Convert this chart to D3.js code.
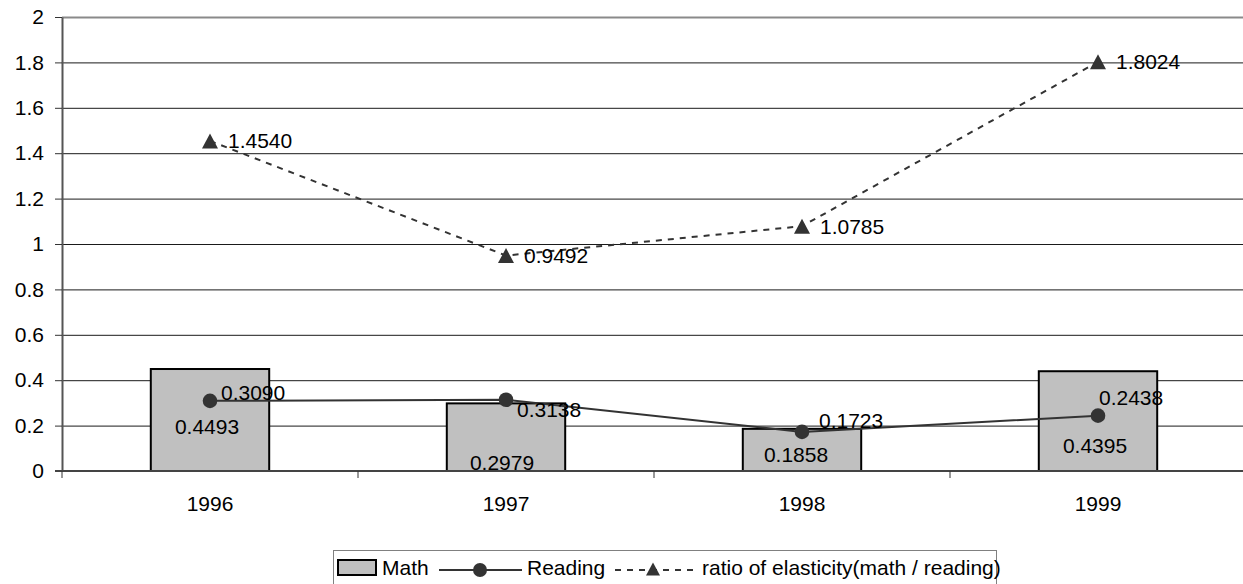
<!DOCTYPE html>
<html>
<head>
<meta charset="utf-8">
<script src="https://cdn.jsdelivr.net/npm/d3@7"></script>
<style>
  html, body { margin: 0; padding: 0; background: #fff; }
  svg { display: block; font-family: "Liberation Sans", Arial, sans-serif; }
</style>
</head>
<body>
<svg id="chart" width="1243" height="584"></svg>
<script>
// ---- data ----
const categories = ["1996", "1997", "1998", "1999"];
const mathValues = [0.4493, 0.2979, 0.1858, 0.4395];
const readingValues = [0.3090, 0.3138, 0.1723, 0.2438];
const ratioValues = [1.4540, 0.9492, 1.0785, 1.8024];
const yTickValues = [0, 0.2, 0.4, 0.6, 0.8, 1, 1.2, 1.4, 1.6, 1.8, 2];
const yTickLabels = ["0", "0.2", "0.4", "0.6", "0.8", "1", "1.2", "1.4", "1.6", "1.8", "2"];
const seriesNames = ["Math", "Reading", "ratio of elasticity(math / reading)"];

// label nudges (manually placed labels in the original)
const mathLabelNudge = [[-3, 7], [-4, 25], [-6, 5], [-3, 25]];
const readingLabelNudge = [[11, -8], [11, 10], [17, -11], [1, -18]];

// ---- layout ----
const W = 1243, H = 584;
const plot = { left: 62, top: 17, right: 1246, bottom: 471 };
const fontSize = 21;

const svg = d3.select("#chart");
svg.append("rect").attr("width", W).attr("height", H).attr("fill", "#fff");

const x = d3.scaleBand().domain(categories)
  .range([plot.left, plot.right]).paddingInner(0.6).paddingOuter(0.3);
const xCat = d3.scaleBand().domain(categories).range([plot.left, plot.right]).padding(0);
const y = d3.scaleLinear().domain([0, 2]).range([plot.bottom, plot.top]);
const cx = c => x(c) + x.bandwidth() / 2;

// gridlines
const grid = svg.append("g").attr("transform", `translate(${plot.left},0)`)
  .call(d3.axisLeft(y).tickValues(yTickValues.slice(1)).tickSize(-(W - plot.left)).tickFormat(""));
grid.select(".domain").remove();
grid.selectAll(".tick line")
  .attr("stroke", d => d === 2 ? "#8a8a8a" : "#1a1a1a")
  .attr("stroke-width", d => d === 2 ? 2 : 1);

// y axis
const yAxis = svg.append("g").attr("transform", `translate(${plot.left},0)`)
  .call(d3.axisLeft(y).tickValues(yTickValues).tickSize(7).tickPadding(11)
    .tickSizeOuter(0).tickFormat((d, i) => yTickLabels[i]));
yAxis.select(".domain").attr("stroke", "#555").attr("stroke-width", 2);
yAxis.selectAll(".tick line").attr("stroke", "#333");
yAxis.selectAll(".tick text").attr("font-size", fontSize).attr("fill", "#000")
  .attr("font-family", "Liberation Sans, Arial, sans-serif");

// bars
svg.append("g").selectAll("rect").data(mathValues).join("rect")
  .attr("x", (d, i) => x(categories[i]))
  .attr("y", d => y(d))
  .attr("width", x.bandwidth())
  .attr("height", d => y(0) - y(d))
  .attr("fill", "#c0c0c0")
  .attr("stroke", "#000")
  .attr("stroke-width", 2);

// x axis
const xAxis = svg.append("g").attr("transform", `translate(0,${plot.bottom})`)
  .call(d3.axisBottom(x).tickSize(0).tickPadding(25).tickSizeOuter(0));
xAxis.select(".domain").remove();
xAxis.selectAll(".tick text").attr("font-size", fontSize).attr("fill", "#000")
  .attr("font-family", "Liberation Sans, Arial, sans-serif");
svg.append("line")
  .attr("x1", plot.left - 7).attr("x2", W)
  .attr("y1", y(0)).attr("y2", y(0))
  .attr("stroke", "#444").attr("stroke-width", 2);
const boundaries = categories.map(c => xCat(c)).concat([xCat.range()[1]]);
svg.append("g").selectAll("line").data(boundaries).join("line")
  .attr("x1", d => d).attr("x2", d => d)
  .attr("y1", y(0)).attr("y2", y(0) + 7)
  .attr("stroke", "#333").attr("stroke-width", 1);

// reading line
const readingPts = readingValues.map((v, i) => [cx(categories[i]), y(v)]);
svg.append("path").attr("d", d3.line()(readingPts))
  .attr("fill", "none").attr("stroke", "#333").attr("stroke-width", 2);
svg.append("g").selectAll("circle").data(readingPts).join("circle")
  .attr("cx", d => d[0]).attr("cy", d => d[1]).attr("r", 7.3).attr("fill", "#333");

// ratio line
const ratioPts = ratioValues.map((v, i) => [cx(categories[i]), y(v)]);
svg.append("path").attr("d", d3.line()(ratioPts))
  .attr("fill", "none").attr("stroke", "#333").attr("stroke-width", 2)
  .attr("stroke-dasharray", "6,6");
const tri = (w, h) => `M0,${-h / 2}L${w / 2},${h / 2}L${-w / 2},${h / 2}Z`;
svg.append("g").selectAll("path").data(ratioPts).join("path")
  .attr("transform", d => `translate(${d[0]},${d[1]})`)
  .attr("d", tri(16, 15)).attr("fill", "#333");

// data labels
const labels = svg.append("g").attr("font-size", fontSize).attr("fill", "#000");
labels.selectAll("text.m").data(mathValues).join("text").attr("class", "m")
  .attr("x", (d, i) => cx(categories[i]) + mathLabelNudge[i][0])
  .attr("y", d => (y(d) + y(0)) / 2)
  .attr("dy", (d, i) => `${mathLabelNudge[i][1] + 0.35 * fontSize}px`)
  .attr("text-anchor", "middle")
  .text(d => d.toFixed(4));
labels.selectAll("text.r").data(readingValues).join("text").attr("class", "r")
  .attr("x", (d, i) => cx(categories[i]) + readingLabelNudge[i][0])
  .attr("y", d => y(d))
  .attr("dy", (d, i) => `${readingLabelNudge[i][1] + 0.35 * fontSize}px`)
  .text(d => d.toFixed(4));
labels.selectAll("text.q").data(ratioValues).join("text").attr("class", "q")
  .attr("x", (d, i) => cx(categories[i]) + 18)
  .attr("y", d => y(d))
  .attr("dy", "0.35em")
  .text(d => d.toFixed(4));

// legend
const lg = svg.append("g");
lg.append("rect").attr("x", 333.5).attr("y", 550.5).attr("width", 663).attr("height", 40)
  .attr("fill", "#fff").attr("stroke", "#808080").attr("stroke-width", 1);
const ly = 568;
lg.append("rect").attr("x", 338).attr("y", 560).attr("width", 38).attr("height", 15)
  .attr("fill", "#c0c0c0").attr("stroke", "#000").attr("stroke-width", 2);
lg.append("text").attr("x", 382).attr("y", ly).attr("dy", "0.35em")
  .attr("font-size", fontSize).text(seriesNames[0]);
lg.append("line").attr("x1", 439).attr("x2", 522).attr("y1", ly + 2).attr("y2", ly + 2)
  .attr("stroke", "#333").attr("stroke-width", 2);
lg.append("circle").attr("cx", 480).attr("cy", ly + 2).attr("r", 7).attr("fill", "#333");
lg.append("text").attr("x", 527).attr("y", ly).attr("dy", "0.35em")
  .attr("font-size", fontSize).text(seriesNames[1]);
lg.append("line").attr("x1", 615).attr("x2", 698).attr("y1", ly + 2).attr("y2", ly + 2)
  .attr("stroke", "#333").attr("stroke-width", 2).attr("stroke-dasharray", "6,6");
lg.append("path").attr("transform", `translate(653,${ly + 1})`).attr("d", tri(14, 13)).attr("fill", "#333");
lg.append("text").attr("x", 702).attr("y", ly).attr("dy", "0.35em")
  .attr("font-size", fontSize).text(seriesNames[2]);
</script>
</body>
</html>
